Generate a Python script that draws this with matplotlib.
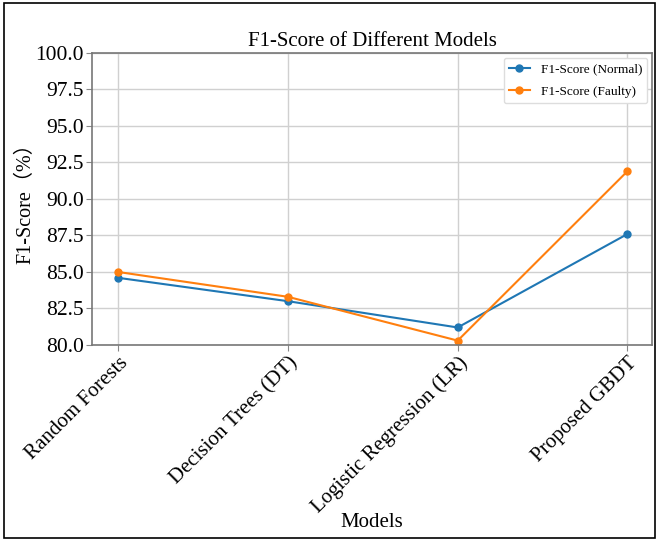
import matplotlib
matplotlib.use('Agg')
import matplotlib.pyplot as plt
from matplotlib.patches import Rectangle

models=['Random Forests','Decision Trees (DT)','Logistic Regression (LR)','Proposed GBDT']
f1_normal=[84.6,83.0,81.2,87.6]
f1_faulty=[85.0,83.3,80.3,91.9]

plt.rcParams['font.family']=['Liberation Serif','Noto Sans CJK SC']

fig=plt.figure(figsize=(6.58,5.42),dpi=100)
ax=fig.add_axes([92/658,1-345/542,560/658,292/542])

x=range(len(models))
ax.plot(x,f1_normal,'-o',color='#1f77b4',lw=1.5,ms=5,label='F1-Score (Normal)')
ax.plot(x,f1_faulty,'-o',color='#ff7f0e',lw=1.5,ms=5,label='F1-Score (Faulty)')

yt=[80,82.5,85,87.5,90,92.5,95,97.5,100]
ax.set_xlim(-0.155,3.145)
ax.set_ylim(80,100)
ax.set_yticks(yt)
ax.set_yticklabels([f'{v:.1f}' for v in yt],fontsize=15.5)
ax.set_xticks(list(x))
ax.set_xticklabels(models,rotation=45,ha='right',rotation_mode='anchor',fontsize=15)
ax.tick_params(axis='both',length=4,width=0.8,color='#888888',pad=2)
ax.grid(True,color='#d0d0d0',lw=1)
ax.set_axisbelow(True)
for s in ax.spines.values():
  s.set_color('#777777')
  s.set_linewidth(1.2)

ax.set_title('F1-Score of Different Models',fontsize=15,pad=5)
ax.set_xlabel('Models',fontsize=15,labelpad=-3)
ax.set_ylabel('F1-Score（%）',fontsize=14.5,labelpad=0)

ax.legend(loc='upper right',fontsize=9.5,framealpha=1,edgecolor='#dddddd',
          handlelength=1.6,borderaxespad=0.35,labelspacing=0.8)

fig.patches.append(Rectangle((4/658,4/542),651/658,535/542,transform=fig.transFigure,
                             fill=False,edgecolor='black',lw=1.2))

fig.savefig('out.png',dpi=100)
